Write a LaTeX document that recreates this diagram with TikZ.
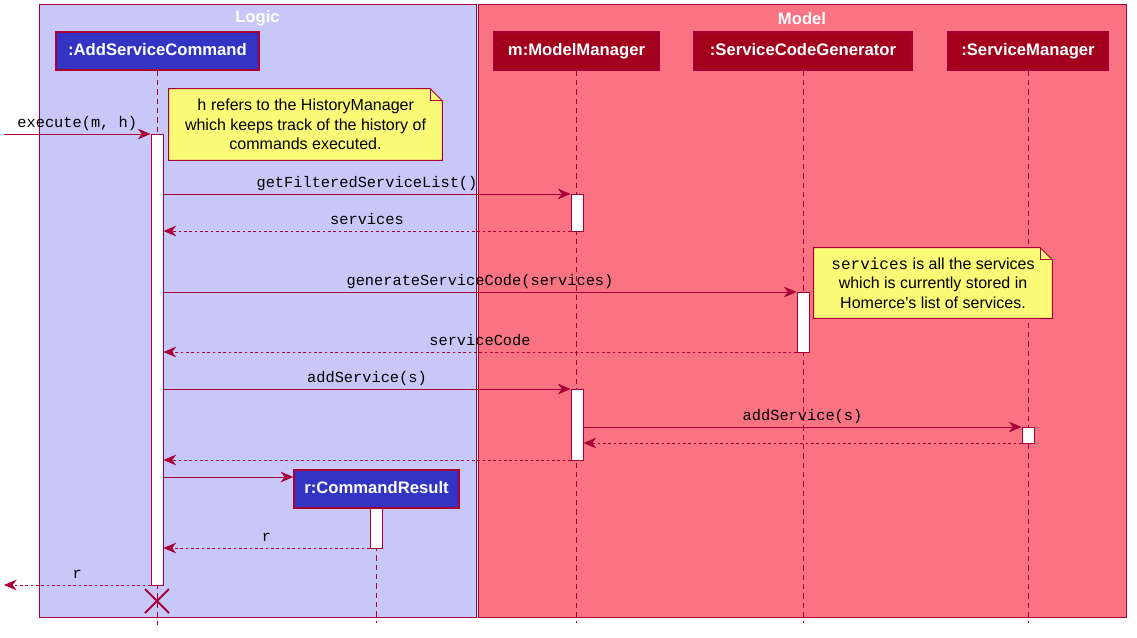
\documentclass[tikz,border=0pt]{standalone}
\usepackage{fontspec}
\setmainfont{Liberation Sans}
\setmonofont{Liberation Mono}
\usetikzlibrary{arrows.meta,shapes.misc}

\definecolor{umlred}{RGB}{168,0,54}
\definecolor{logicbg}{RGB}{200,200,248}
\definecolor{modelbg}{RGB}{250,115,130}
\definecolor{objblue}{RGB}{51,51,196}
\definecolor{objred}{RGB}{162,0,28}
\definecolor{notebg}{RGB}{251,251,119}

\pgfdeclarelayer{back}
\pgfsetlayers{back,main}

\tikzset{
 obj/.style={draw=umlred, line width=1.1pt, text=white, font=\bfseries\fontsize{12.5}{15}\selectfont, minimum height=28.5pt, inner sep=0pt, text height=9pt, text depth=3pt},
 logicobj/.style={obj, fill=objblue},
 modelobj/.style={obj, fill=objred},
 bar/.style={draw=umlred, fill=white, line width=0.75pt, minimum width=9pt, inner sep=0pt},
 life/.style={umlred, line width=0.75pt, dash pattern=on 4pt off 3pt},
 call/.style={umlred, line width=0.75pt, -{Stealth[length=9.5pt,width=8pt,inset=3pt]}},
 reply/.style={call, dash pattern=on 2pt off 2pt},
 lbl/.style={midway, above, text=black, inner sep=2.2pt, text height=7.5pt, text depth=2pt, font=\ttfamily\fontsize{11.5}{13}\selectfont},
 notetext/.style={align=center, font=\fontsize{12}{14.6}\selectfont, inner sep=0pt},
 notebox/.style={draw=umlred, fill=notebg, line width=0.75pt},
 grp/.style={draw=umlred, line width=0.75pt},
 grptitle/.style={text=white, font=\bfseries\fontsize{12.5}{15}\selectfont}
}

\begin{document}
\begin{tikzpicture}[x=0.75pt,y=-0.75pt]
 \useasboundingbox (0,0) rectangle (1137,637);

 \begin{pgfonlayer}{back}
  \draw[grp, fill=logicbg] (39,4) rectangle (476,617);
  \draw[grp, fill=modelbg] (478,4) rectangle (1126,617);
 \end{pgfonlayer}
 \node[grptitle] (logic) at (257.5,18.5) {Logic};
 \node[grptitle] (model) at (802,18.5) {Model};

 \node[logicobj, minimum width=152.25pt] (asc) at (157.5,51) {:AddServiceCommand};
 \node[modelobj, minimum width=123.75pt] (mm) at (576.5,51) {m:ModelManager};
 \node[modelobj, minimum width=163.5pt] (scg) at (803,51) {:ServiceCodeGenerator};
 \node[modelobj, minimum width=120pt] (sm) at (1028,51) {:ServiceManager};
 \node[logicobj, minimum width=123.75pt] (cr) at (376.5,489) {r:CommandResult};

 \begin{pgfonlayer}{back}
  \draw[life] (asc.south) -- (asc.south |- 0,625);
  \draw[life] (mm.south) -- (mm.south |- 0,623);
  \draw[life] (scg.south) -- (scg.south |- 0,623);
  \draw[life] (sm.south) -- (sm.south |- 0,623);
  \draw[life] (cr.south) -- (cr.south |- 0,623);
 \end{pgfonlayer}

 \node[bar, minimum height=338.25pt] (a0) at (157,359.5) {};
 \node[bar, minimum height=27.75pt] (m1) at (577,212.5) {};
 \node[bar, minimum height=53.25pt] (m2) at (577,424.5) {};
 \node[bar, minimum height=45pt] (g1) at (803,322) {};
 \node[bar, minimum height=12pt] (s1) at (1028,435) {};
 \node[bar, minimum height=30pt] (r1) at (376,528) {};

 \coordinate (in) at (4,134);
 \coordinate (out) at (4,585);

 \draw[call] (in) -- (a0.west |- in) node[lbl] {execute(m, h)};
 \draw[call] (a0.east |- 0,194) -- (m1.west |- 0,194) node[lbl] {getFilteredServiceList()};
 \draw[reply] (m1.west |- 0,231) -- (a0.east |- 0,231) node[lbl] {services};
 \draw[call] (a0.east |- 0,292) -- (g1.west |- 0,292) node[lbl] {generateServiceCode(services)};
 \draw[reply] (g1.west |- 0,352) -- (a0.east |- 0,352) node[lbl] {serviceCode};
 \draw[call] (a0.east |- 0,389) -- (m2.west |- 0,389) node[lbl] {addService(s)};
 \draw[call] (m2.east |- 0,427) -- (s1.west |- 0,427) node[lbl] {addService(s)};
 \draw[reply] (s1.west |- 0,443) -- (m2.east |- 0,443);
 \draw[reply] (m2.west |- 0,460) -- (a0.east |- 0,460);
 \draw[call] (a0.east |- 0,477) -- (cr.west |- 0,477);
 \draw[reply] (r1.west |- 0,548) -- (a0.east |- 0,548) node[lbl] {r};
 \draw[reply] (a0.west |- out) -- (out) node[lbl] {r};

 \node[cross out, draw=umlred, line width=1.5pt, minimum size=16.5pt, inner sep=0pt] (x0) at (157,601) {};

 \node[notetext, minimum width=204.75pt, minimum height=53.25pt] (n1) at (305.5,124.5)
  {\texttt{h} refers to the HistoryManager\\which keeps track of the history of\\commands executed.};
 \node[notetext, minimum width=178.5pt, minimum height=52.5pt] (n2) at (933,283)
  {\texttt{services} is all the services\\which is currently stored in\\Homerce's list of services.};
 \begin{pgfonlayer}{back}
  \draw[notebox] (n1.north west) -- ([xshift=-9pt]n1.north east) -- ([yshift=-9pt]n1.north east) -- (n1.south east) -- (n1.south west) -- cycle;
  \draw[notebox] (n2.north west) -- ([xshift=-9pt]n2.north east) -- ([yshift=-9pt]n2.north east) -- (n2.south east) -- (n2.south west) -- cycle;
 \end{pgfonlayer}
 \draw[umlred, line width=0.75pt] ([xshift=-9pt]n1.north east) |- ([yshift=-9pt]n1.north east);
 \draw[umlred, line width=0.75pt] ([xshift=-9pt]n2.north east) |- ([yshift=-9pt]n2.north east);
\end{tikzpicture}
\end{document}
